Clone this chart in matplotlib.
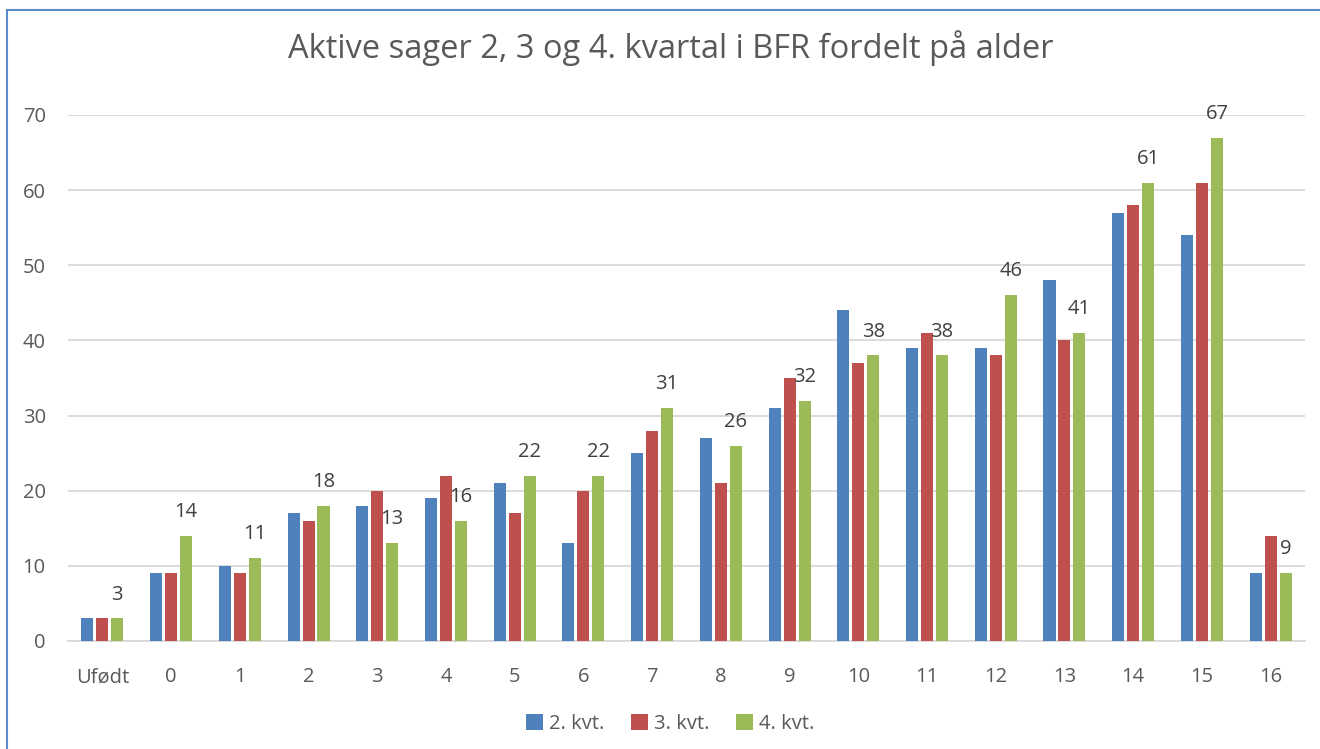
import matplotlib
matplotlib.use("Agg")
import matplotlib.pyplot as plt
from matplotlib.patches import Rectangle
import numpy as np

categories = ["Ufødt", "0", "1", "2", "3", "4", "5", "6", "7", "8", "9",
              "10", "11", "12", "13", "14", "15", "16"]
kvt2 = [3, 9, 10, 17, 18, 19, 21, 13, 25, 27, 31, 44, 39, 39, 48, 57, 54, 9]
kvt3 = [3, 9, 9, 16, 20, 22, 17, 20, 28, 21, 35, 37, 41, 38, 40, 58, 61, 14]
kvt4 = [3, 14, 11, 18, 13, 16, 22, 22, 31, 26, 32, 38, 38, 46, 41, 61, 67, 9]
series_names = ["2. kvt.", "3. kvt.", "4. kvt."]
colors = ["#4F81BD", "#C0504D", "#9BBB59"]
title = "Aktive sager 2, 3 og 4. kvartal i BFR fordelt på alder"

plt.rcParams['font.family'] = ['Open Sans', 'DejaVu Sans']

W, H = 1320, 749
fig = plt.figure(figsize=(W / 100, H / 100), dpi=100)
fig.patch.set_facecolor("white")

# axes in pixel coords: left 68, right 1305, top(70) 115, bottom(0) 641
l, r, t, b = 68, 1305, 115, 641
ax = fig.add_axes([l / W, 1 - b / H, (r - l) / W, (b - t) / H])

x = np.arange(len(categories))
bw = 0.175
step = 0.218
for i, (vals, c, name) in enumerate(zip([kvt2, kvt3, kvt4], colors, series_names)):
    ax.bar(x + (i - 1) * step, vals, width=bw, color=c, label=name, zorder=3)
    if i == 2:
        for xi, v in zip(x, vals):
            ax.annotate(str(v), (xi + (i - 1) * step, v), xytext=(0, 10),
                        textcoords="offset points", ha="center", va="bottom",
                        fontsize=14.5, color="#404040", annotation_clip=False)

ax.set_xlim(-0.5, len(categories) - 0.5)
ax.set_ylim(0, 70)
ax.set_yticks(range(0, 71, 10))
ax.grid(axis="y", color="#D9D9D9", linewidth=1.3, zorder=0)
ax.set_axisbelow(True)
for s in ["top", "right", "left"]:
    ax.spines[s].set_visible(False)
ax.spines["bottom"].set_color("#D9D9D9")
ax.spines["bottom"].set_linewidth(1.3)
ax.set_xticks(x)
ax.set_xticklabels(categories)
ax.tick_params(axis="both", length=0, labelsize=14.5, labelcolor="#595959")
ax.tick_params(axis="x", pad=19)
ax.tick_params(axis="y", pad=16)

fig.text(671 / W, 1 - 48 / H, title, ha="center", va="center",
         fontsize=23.5, color="#595959")

handles, labels = ax.get_legend_handles_labels()
leg = fig.legend(handles, labels, loc="center", bbox_to_anchor=(670 / W, 1 - 724 / H),
                 ncol=3, frameon=False, fontsize=14.5, handlelength=0.85,
                 handleheight=0.85, handletextpad=0.3, columnspacing=1.3)
for txt in leg.get_texts():
    txt.set_color("#595959")

# chart border
fig.patches.append(Rectangle((7 / W, -0.1), 1.2, 1 - 10 / H + 0.1,
                             transform=fig.transFigure, fill=False,
                             edgecolor="#5B8BC9", linewidth=1.5))

fig.savefig("out.png", dpi=100)
